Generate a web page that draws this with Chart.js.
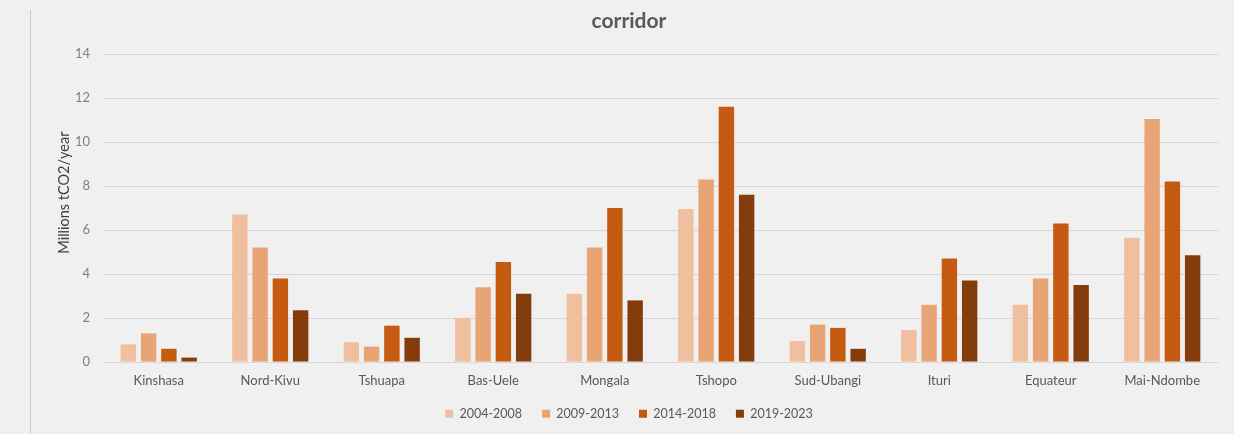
<!DOCTYPE html>
<html lang="en">
  <head>
    <meta charset="UTF-8" />
    <title>corridor</title>
    <script src="https://cdn.jsdelivr.net/npm/chart.js"></script>
    <style>
      html,
      body {
        margin: 0;
        padding: 0;
        background-color: #f0f0f0;
      }
      #wrap {
        width: 1234px;
        height: 434px;
        position: relative;
      }
    </style>
  </head>
  <body>
    <div id="wrap"><canvas id="corridorChart"></canvas></div>

    <script>
      // provinces along the x axis
      const provinces = [
        "Kinshasa",
        "Nord-Kivu",
        "Tshuapa",
        "Bas-Uele",
        "Mongala",
        "Tshopo",
        "Sud-Ubangi",
        "Ituri",
        "Equateur",
        "Mai-Ndombe",
      ];

      // emissions per period, millions tCO2/year
      const p2004_2008 = [0.8, 6.7, 0.9, 2.0, 3.1, 6.95, 0.95, 1.45, 2.6, 5.65];
      const p2009_2013 = [1.3, 5.2, 0.7, 3.4, 5.2, 8.3, 1.7, 2.6, 3.8, 11.05];
      const p2014_2018 = [0.6, 3.8, 1.65, 4.55, 7.0, 11.6, 1.55, 4.7, 6.3, 8.2];
      const p2019_2023 = [0.2, 2.35, 1.1, 3.1, 2.8, 7.6, 0.6, 3.7, 3.5, 4.85];

      const periodLabels = ["2004-2008", "2009-2013", "2014-2018", "2019-2023"];
      const periodColors = ["#efbf9e", "#e9a475", "#c55a11", "#843c0c"];

      const FONT = "Lato, 'Liberation Sans', sans-serif";

      // thin grey rule on the left edge of the sheet
      const leftRule = {
        id: "leftRule",
        beforeDraw(chart) {
          const ctx = chart.ctx;
          ctx.save();
          ctx.strokeStyle = "#c9c9c9";
          ctx.lineWidth = 1;
          ctx.beginPath();
          ctx.moveTo(30.5, 10);
          ctx.lineTo(30.5, chart.height);
          ctx.stroke();
          ctx.restore();
        },
      };

      // y axis caption, sitting a little above the middle of the plot like Excel does
      const yCaption = {
        id: "yCaption",
        afterDraw(chart) {
          const ctx = chart.ctx;
          const area = chart.chartArea;
          ctx.save();
          ctx.translate(64, area.top + (area.bottom - area.top) * 0.45);
          ctx.rotate(-Math.PI / 2);
          ctx.fillStyle = "#404040";
          ctx.font = "14.5px " + FONT;
          ctx.textAlign = "center";
          ctx.textBaseline = "middle";
          ctx.fillText("Millions tCO2/year", 0, 0);
          ctx.restore();
        },
      };

      const series = [p2004_2008, p2009_2013, p2014_2018, p2019_2023];

      new Chart(document.getElementById("corridorChart"), {
        type: "bar",
        data: {
          labels: provinces,
          datasets: series.map((values, i) => ({
            label: periodLabels[i],
            data: values,
            backgroundColor: periodColors[i],
            categoryPercentage: 0.727,
            barPercentage: 0.76,
          })),
        },
        options: {
          responsive: true,
          maintainAspectRatio: false,
          animation: false,
          layout: {
            padding: { left: 40, right: 16, top: 0, bottom: 4 },
          },
          plugins: {
            title: {
              display: true,
              text: "corridor",
              color: "#595959",
              font: { family: FONT, size: 21, weight: "bold" },
              padding: { top: 8.4, bottom: 20.4 },
            },
            legend: {
              position: "bottom",
              labels: {
                boxWidth: 8,
                boxHeight: 8,
                padding: 20,
                color: "#595959",
                font: { family: FONT, size: 12.5 },
              },
            },
            tooltip: { enabled: false },
          },
          scales: {
            x: {
              grid: { display: false, drawTicks: false },
              border: { display: false },
              ticks: {
                color: "#595959",
                padding: 12.5,
                font: { family: FONT, size: 13, lineHeight: 1 },
              },
              afterFit(scale) {
                // labels sit 12.5px below the plot; keep the box just tall enough
                scale.height = 25.5;
              },
            },
            y: {
              min: 0,
              max: 14,
              ticks: {
                stepSize: 2,
                color: "#7f7f7f",
                padding: 13,
                font: { family: FONT, size: 13 },
              },
              grid: {
                color: "#d6d6d6",
                lineWidth: 1,
                drawTicks: false,
              },
              border: { display: false },
              afterFit(scale) {
                scale.width = 63;
              },
            },
          },
        },
        plugins: [leftRule, yCaption],
      });
    </script>
  </body>
</html>
